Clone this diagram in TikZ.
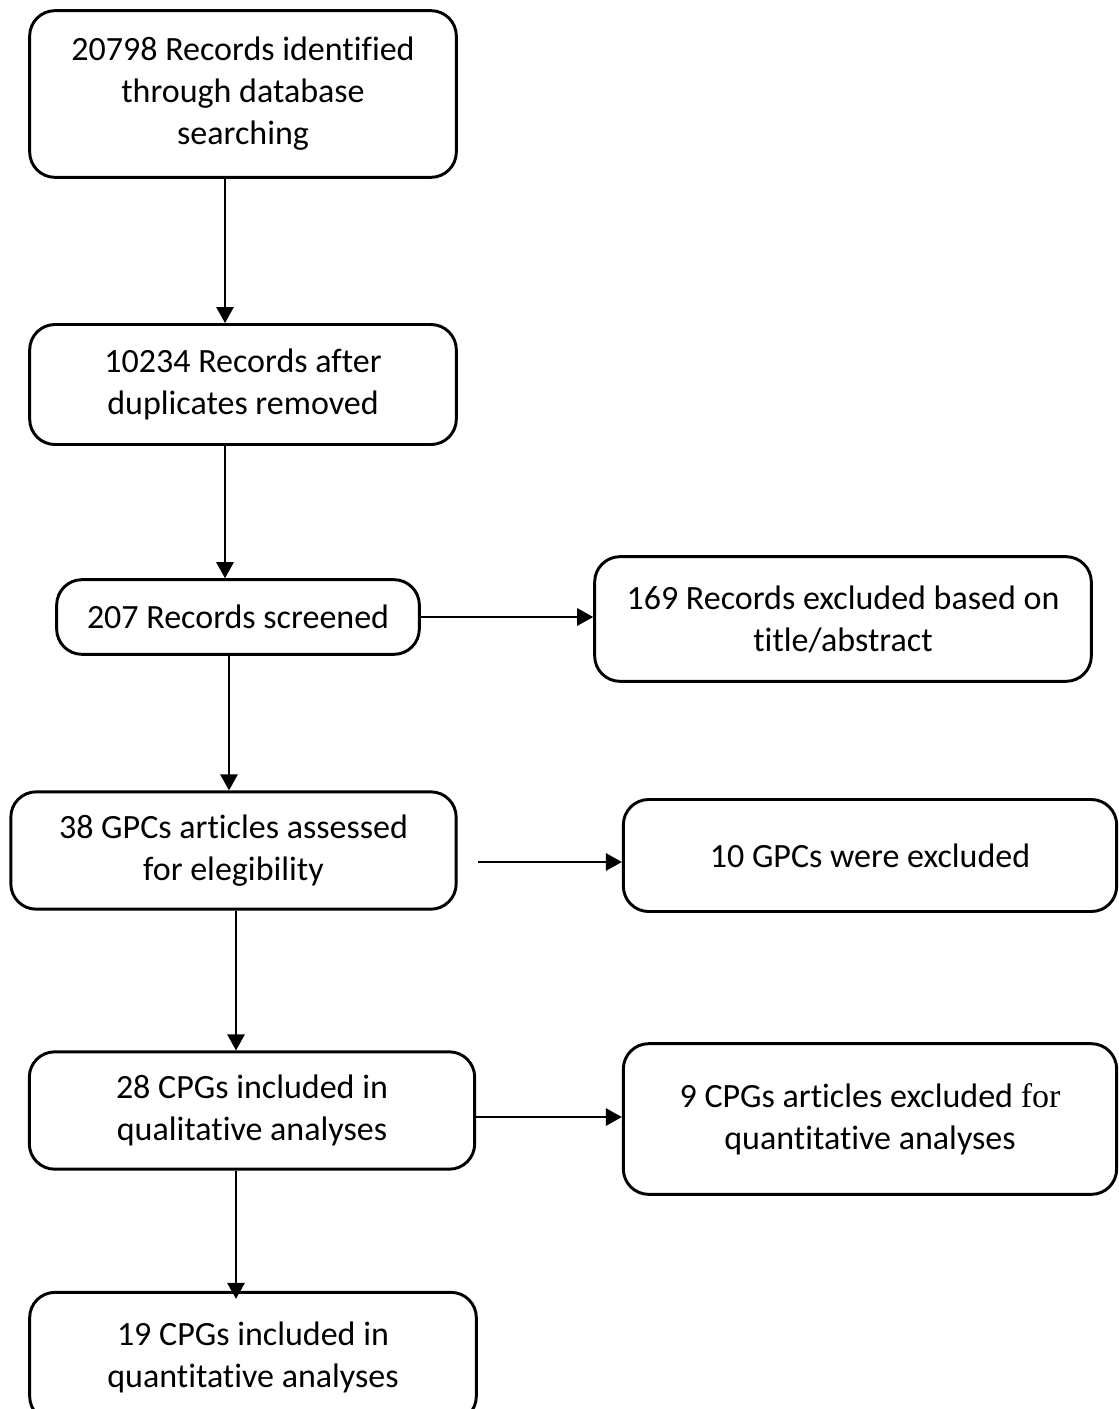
\documentclass[tikz,border=0pt]{standalone}
\usepackage{fontspec}
\setmainfont{Carlito}[Ligatures=NoCommon]
\newfontfamily\serifpart{Liberation Serif}
\usetikzlibrary{arrows.meta}
\begin{document}
\begin{tikzpicture}[x=0.75pt,y=-0.75pt,
  box/.style={draw,line width=2.2pt,rounded corners=19pt,align=center,inner sep=0pt,
    font=\fontsize{25.5pt}{31.5pt}\selectfont},
  arr/.style={line width=1.4pt,-{Triangle[length=12pt,width=13pt]}}]
\useasboundingbox[fill=white] (0,0) rectangle (1119,1409);
\node[box,minimum width=320pt,minimum height=125pt] (b1) at (243,94)
  {20798 Records identified\\through database\\searching};
\node[box,minimum width=320pt,minimum height=90pt] (b2) at (243,384.5)
  {10234 Records after\\duplicates removed};
\node[box,minimum width=272pt,minimum height=56pt] (b3) at (238,617)
  {207 Records screened};
\node[box,minimum width=372.5pt,minimum height=93.5pt] (b4) at (843,619)
  {169 Records excluded based on\\title/abstract};
\node[box,minimum width=334pt,minimum height=88pt] (b5) at (233.5,850.5)
  {38 GPCs articles assessed\\for elegibility};
\node[box,minimum width=370pt,minimum height=84pt] (b6) at (870,855.5)
  {10 GPCs were excluded};
\node[box,minimum width=334pt,minimum height=88pt] (b7) at (252,1110.5)
  {28 CPGs included in\\qualitative analyses};
\node[box,minimum width=370pt,minimum height=113pt] (b8) at (870,1119)
  {9 CPGs articles excluded {\serifpart for}\\quantitative analyses};
\node[box,minimum width=335pt,minimum height=97pt] (b9) at (253,1357)
  {19 CPGs included in\\quantitative analyses};
\coordinate (s56) at (478,862);
\draw[arr] ([xshift=-13.5pt]b1.south) -- ([xshift=-13.5pt]b2.north);
\draw[arr] ([xshift=-13.5pt]b2.south) -- ([xshift=-13.5pt]b2.south |- b3.north);
\draw[arr] (b3.east) -- (b3.east -| b4.west);
\draw[arr] ([xshift=-6.75pt]b3.south) -- ([xshift=-6.75pt]b3.south |- b5.north);
\draw[arr] (s56) -- (s56 -| b6.west);
\draw[arr] ([xshift=1.9pt]b5.south) -- ([xshift=1.9pt]b5.south |- b7.north);
\draw[arr] ([yshift=-4.9pt]b7.east) -- ([yshift=-4.9pt]b7.east -| b8.west);
\draw[arr,shorten >=-6pt] ([xshift=-12pt]b7.south) -- ([xshift=-12pt]b7.south |- b9.north);
\end{tikzpicture}
\end{document}
